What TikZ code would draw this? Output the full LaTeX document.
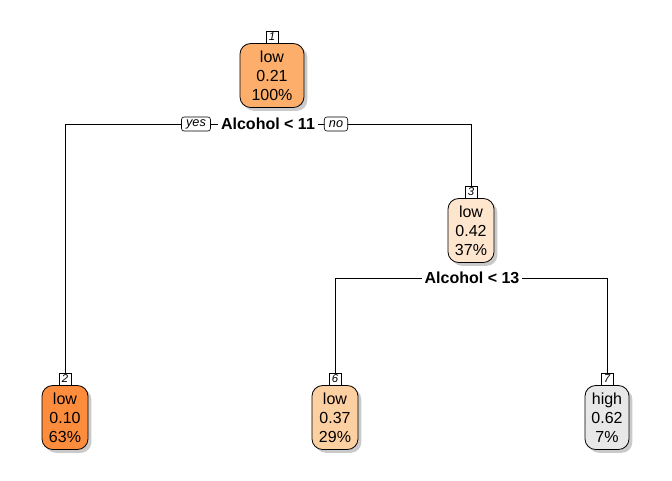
\documentclass[tikz,border=0pt]{standalone}
\usepackage{fontspec}
\setmainfont{Liberation Sans}
\usetikzlibrary{shadows}
\definecolor{c1}{HTML}{FDAE6B}
\definecolor{c2}{HTML}{FD8D3C}
\definecolor{c3}{HTML}{FEE6CE}
\definecolor{c6}{HTML}{FDD0A2}
\definecolor{c7}{HTML}{E8E8E8}
\tikzset{
  leaf/.style={draw=black, line width=0.6pt, rounded corners=8pt, align=center, font=\fontsize{12}{14.25}\selectfont,
    minimum height=48pt, inner xsep=2pt, inner ysep=2pt,
    drop shadow={shadow xshift=2.5pt, shadow yshift=-2.5pt, fill=black!35, opacity=0.6}},
  numbox/.style={draw=black, line width=0.45pt, fill=white, font=\fontsize{8.5}{9}\selectfont\itshape, inner sep=0pt, minimum width=9pt, minimum height=9pt},
  lab/.style={draw=black, line width=0.45pt, fill=white, rounded corners=2pt, font=\fontsize{9.5}{11}\selectfont\itshape, inner xsep=3.5pt, inner ysep=0pt, minimum height=10.5pt},
  split/.style={fill=white, font=\fontsize{12}{14}\selectfont\bfseries, inner xsep=2pt, inner ysep=1pt},
  edge/.style={draw=black, line width=0.5pt}
}
\begin{document}
\begin{tikzpicture}[x=0.75pt,y=-0.75pt]
\useasboundingbox (0,0) rectangle (672,480);
% nodes
\node[leaf, fill=c1, minimum width=48pt] (n1) at (272,75.5) {low\\0.21\\100\%};
\node[numbox, anchor=south] (l1) at (n1.north) {1};
\node[leaf, fill=c3, minimum width=34.5pt] (n3) at (471,230.5) {low\\0.42\\37\%};
\node[numbox, anchor=south] (l3) at (n3.north) {3};
\node[leaf, fill=c2, minimum width=34.5pt] (n2) at (65,417.5) {low\\0.10\\63\%};
\node[numbox, anchor=south] (l2) at (n2.north) {2};
\node[leaf, fill=c6, minimum width=34.5pt] (n6) at (335,417.5) {low\\0.37\\29\%};
\node[numbox, anchor=south] (l6) at (n6.north) {6};
\node[leaf, fill=c7, minimum width=33pt] (n7) at (607,417.5) {high\\0.62\\7\%};
\node[numbox, anchor=south] (l7) at (n7.north) {7};
% split 1
\coordinate (s1) at (0,124);
\draw[edge] (l2.north) -- (l2.north |- s1) -- (l3.north |- s1) -- (l3.north);
\node[split] (sp1) at (268,124) {Alcohol < 11};
\node[lab] (yes) at (196,124) {yes};
\node[lab] (no) at (336,124) {no};
% split 2
\coordinate (s2) at (0,278);
\draw[edge] (l6.north) -- (l6.north |- s2) -- (l7.north |- s2) -- (l7.north);
\node[split] (sp2) at (472,278) {Alcohol < 13};
\end{tikzpicture}
\end{document}
